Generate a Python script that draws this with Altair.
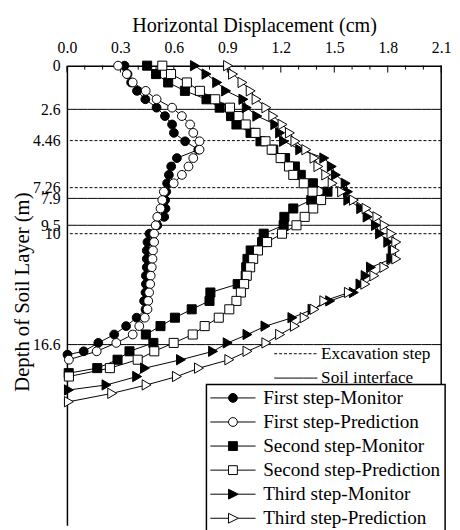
import altair as alt
import pandas as pd

FS = "Liberation Serif"

# ---- data ----
DEPTHS = [0.0, 0.5, 1.0, 1.5, 2.0, 2.5, 3.0, 3.5, 4.0, 4.5, 5.0, 5.5, 6.0, 6.5,
          7.0, 7.5, 8.0, 8.5, 9.0, 9.5, 10.0, 10.5, 11.0, 11.5, 12.0, 12.5,
          13.0, 13.5, 14.0, 14.5, 15.0, 15.5, 16.0, 16.5, 17.0, 17.5, 18.0,
          18.5, 19.0, 19.5, 20.0]

FM_d = DEPTHS[:35] + [17.2]
FM_x = [0.323, 0.34, 0.36, 0.393, 0.44, 0.503, 0.55, 0.59, 0.60, 0.663, 0.737,
        0.617, 0.585, 0.572, 0.562, 0.557, 0.551, 0.553, 0.546, 0.507, 0.463,
        0.452, 0.448, 0.448, 0.448, 0.443, 0.443, 0.441, 0.433, 0.441, 0.391,
        0.332, 0.265, 0.176, 0.094, 0.003]

FP_d = DEPTHS[:36]
FP_x = [0.287, 0.336, 0.369, 0.442, 0.503, 0.590, 0.645, 0.691, 0.709, 0.744,
        0.744, 0.709, 0.682, 0.645, 0.599, 0.544, 0.535, 0.525, 0.507, 0.498,
        0.489, 0.489, 0.483, 0.480, 0.476, 0.470, 0.467, 0.461, 0.456, 0.452,
        0.437, 0.406, 0.369, 0.277, 0.167, 0.011]

SM_d = DEPTHS[:37] + [18.3]
SM_x = [0.45, 0.50, 0.568, 0.662, 0.783, 0.857, 0.921, 0.951, 1.03, 1.086,
        1.158, 1.224, 1.279, 1.312, 1.380, 1.462, 1.371, 1.270, 1.22, 1.216,
        1.104, 1.095, 1.031, 1.013, 1.006, 1.003, 0.958, 0.805, 0.80, 0.70,
        0.606, 0.525, 0.443, 0.485, 0.351, 0.284, 0.17, 0.01]

SP_d = DEPTHS[:38]
SP_x = [0.535, 0.584, 0.673, 0.746, 0.832, 0.915, 0.963, 1.003, 1.058, 1.114,
        1.149, 1.199, 1.246, 1.27, 1.329, 1.378, 1.426, 1.382, 1.334, 1.288,
        1.207, 1.123, 1.072, 1.045, 1.028, 1.009, 0.994, 0.976, 0.951, 0.911,
        0.852, 0.773, 0.706, 0.599, 0.49, 0.397, 0.241, 0.011]

TM_d = DEPTHS[:39] + [19.3]
TM_x = [0.718, 0.783, 0.843, 0.893, 0.99, 1.009, 1.068, 1.169, 1.196, 1.218,
        1.309, 1.444, 1.486, 1.509, 1.564, 1.577, 1.579, 1.651, 1.687, 1.734,
        1.757, 1.803, 1.828, 1.82, 1.706, 1.676, 1.647, 1.61, 1.477, 1.378,
        1.265, 1.114, 1.013, 0.902, 0.82, 0.64, 0.438, 0.394, 0.222, 0.011]

TP_d = DEPTHS[:41]
TP_x = [0.904, 0.932, 0.985, 1.031, 1.064, 1.119, 1.158, 1.21, 1.251, 1.282,
        1.343, 1.389, 1.411, 1.455, 1.491, 1.544, 1.61, 1.681, 1.742, 1.783,
        1.821, 1.848, 1.84, 1.848, 1.781, 1.725, 1.674, 1.582, 1.444, 1.389,
        1.334, 1.279, 1.196, 1.119, 1.013, 0.911, 0.741, 0.617, 0.447, 0.254,
        0.011]

NAMES = ["First step-Monitor", "First step-Prediction",
         "Second step-Monitor", "Second step-Prediction",
         "Third step-Monitor", "Third step-Prediction"]

REF_DEPTHS = [2.6, 4.46, 7.26, 7.9, 9.5, 10.0, 16.6]
REF_KIND = ["Soil interface", "Excavation step", "Excavation step",
            "Soil interface", "Soil interface", "Excavation step",
            "Soil interface"]

X_TICKS = [0.0, 0.3, 0.6, 0.9, 1.2, 1.5, 1.8, 2.1]
X_MINOR = [0.1, 0.2, 0.4, 0.5, 0.7, 0.8, 1.0, 1.1, 1.3, 1.4, 1.6, 1.7, 1.9, 2.0]
Y_TICKS = [0, 2.6, 4.46, 7.26, 7.9, 9.5, 10, 16.6]

# ---- styling ----
W, H = 381, 468
xscale = alt.Scale(domain=[0, 2.1], nice=False, zero=False)
yscale = alt.Scale(domain=[0, 27.36], reverse=True, nice=False, zero=False)

xaxis = alt.Axis(orient="top", values=X_TICKS, format=".1f",
                 title="Horizontal Displacement (cm)", ticks=False, grid=False,
                 domainColor="black", domainWidth=1.5,
                 labelFont=FS, labelFontSize=16, labelColor="black",
                 labelPadding=10, labelFlush=False, labelOverlap=False,
                 titleFont=FS, titleFontSize=20.5, titleFontWeight="normal",
                 titleColor="black", titlePadding=5)
yaxis = alt.Axis(orient="left", values=Y_TICKS,
                 labelExpr="'' + datum.value",
                 title="Depth of Soil Layer (m)", ticks=False, grid=False,
                 domainColor="black", domainWidth=1.5,
                 labelFont=FS, labelFontSize=16, labelColor="black",
                 labelPadding=7, labelFlush=False, labelOverlap=False,
                 titleFont=FS, titleFontSize=21, titleFontWeight="normal",
                 titleColor="black", titleX=-35, titleY=230)


def X(f="disp"):
    return alt.X(f + ":Q", scale=xscale, axis=xaxis)


def Y(f="depth"):
    return alt.Y(f + ":Q", scale=yscale, axis=yaxis)


layers = []

# reference lines (excavation steps / soil interfaces)
ref_df = pd.DataFrame({"depth": REF_DEPTHS, "kind": REF_KIND})
layers.append(
    alt.Chart(ref_df).mark_rule(color="black", strokeWidth=1).encode(
        y=Y(),
        strokeDash=alt.StrokeDash(
            "kind:N",
            scale=alt.Scale(domain=["Excavation step", "Soil interface"],
                            range=[[3, 2], [10, 0]]),
            legend=alt.Legend(title=None, orient="none", legendX=211,
                              legendY=284.5, padding=0,
                              symbolType="M-4.4,0H4.4", symbolSize=100,
                              symbolStrokeWidth=1, symbolStrokeColor="black",
                              symbolOffset=13.25, labelOffset=17,
                              labelFont=FS, labelFontSize=17.5, labelLimit=0,
                              labelColor="black", rowPadding=5.8)))
)

# top axis inward ticks
layers.append(
    alt.Chart(pd.DataFrame({"disp": X_TICKS})).mark_rule(
        color="black", strokeWidth=1).encode(
        x=X(), y=alt.value(0), y2=alt.value(7))
)
layers.append(
    alt.Chart(pd.DataFrame({"disp": X_MINOR})).mark_rule(
        color="black", strokeWidth=1).encode(
        x=X(), y=alt.value(0), y2=alt.value(4))
)
# right frame
layers.append(
    alt.Chart(pd.DataFrame({"disp": [2.1]})).mark_rule(
        color="black", strokeWidth=1.5).encode(x=X())
)

SERIES = [
    (FM_d, FM_x, "circle", "black", 80),
    (FP_d, FP_x, "circle", "white", 80),
    (SM_d, SM_x, "square", "black", 85),
    (SP_d, SP_x, "square", "white", 85),
    (TM_d, TM_x, "triangle-right", "black", 110),
    (TP_d, TP_x, "triangle-right", "white", 110),
]

for d, x, shp, fill, size in SERIES:
    df = pd.DataFrame({"depth": d, "disp": x})
    base = alt.Chart(df)
    layers.append(base.mark_line(color="black", strokeWidth=1).encode(
        x=X(), y=Y(), order="depth:Q"))
    layers.append(base.mark_point(shape=shp, filled=True, fill=fill,
                                  stroke="black", strokeWidth=1, size=size,
                                  opacity=1).encode(x=X(), y=Y()))

# legend for the six series (line + marker symbols)
PATHS = [
    "M-4.6,0H-0.9M0.9,0H4.6M0.9,0A0.9,0.9,0,1,1,-0.9,0A0.9,0.9,0,1,1,0.9,0Z",
    "M-4.6,0H-0.9M0.9,0H4.6M0.9,0A0.9,0.9,0,1,1,-0.9,0A0.9,0.9,0,1,1,0.9,0Z",
    "M-4.6,0H-0.9M0.9,0H4.6M-0.9,-0.9H0.9V0.9H-0.9Z",
    "M-4.6,0H-0.9M0.9,0H4.6M-0.9,-0.9H0.9V0.9H-0.9Z",
    "M-4.6,0H-0.9M1.1,0H4.6M-0.9,-1L1.1,0L-0.9,1Z",
    "M-4.6,0H-0.9M1.1,0H4.6M-0.9,-1L1.1,0L-0.9,1Z",
]
FILLS = ["black", "white", "black", "white", "black", "white"]
STROKES = ["black"] * 6

LEG = alt.Legend(title=None, orient="none", legendX=142, legendY=324.5,
                 padding=4, strokeColor="black", fillColor="white",
                 symbolSize=100, symbolStrokeWidth=1, symbolOpacity=1,
                 symbolOffset=13.25, labelOffset=21,
                 labelFont=FS, labelFontSize=19.5, labelColor="black",
                 labelLimit=0, rowPadding=3.5)

layers.append(
    alt.Chart(pd.DataFrame({"series": NAMES})).mark_point(
        opacity=0, filled=True).encode(
        shape=alt.Shape("series:N", scale=alt.Scale(domain=NAMES, range=PATHS),
                        legend=LEG),
        fill=alt.Fill("series:N", scale=alt.Scale(domain=NAMES, range=FILLS),
                      legend=LEG),
        stroke=alt.Stroke("series:N",
                          scale=alt.Scale(domain=NAMES, range=STROKES),
                          legend=LEG))
)

chart = alt.layer(*layers).properties(
    width=W, height=H,
    autosize=alt.AutoSizeParams(type="none"),
    padding={"left": 60, "top": 54, "right": 11, "bottom": 0},
    background="white",
).configure(font=FS).configure_view(stroke="transparent").configure_legend(
    strokeWidth=1.5)

chart.save("out.html", embed_options={"renderer": "svg", "actions": False})
